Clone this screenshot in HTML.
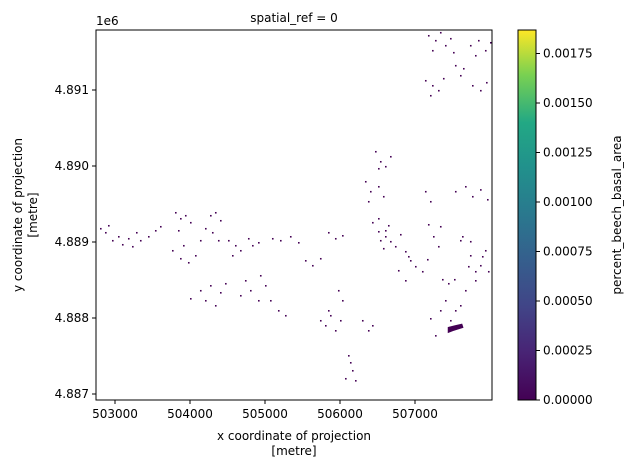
<!DOCTYPE html>
<html><head><meta charset="utf-8"><style>
body{margin:0;background:#fff;font-family:"Liberation Sans","DejaVu Sans",sans-serif}
svg text{font-family:"DejaVu Sans","Liberation Sans",sans-serif;font-size:12px;fill:#000}
</style></head><body>
<svg id="chart" width="632" height="469" xmlns="http://www.w3.org/2000/svg">
<defs><linearGradient id="vir" x1="0" y1="1" x2="0" y2="0">
<stop offset="0" stop-color="#440154"/><stop offset="0.13" stop-color="#482475"/><stop offset="0.25" stop-color="#414487"/><stop offset="0.38" stop-color="#355f8d"/><stop offset="0.5" stop-color="#2a788e"/><stop offset="0.63" stop-color="#21918c"/><stop offset="0.75" stop-color="#22a884"/><stop offset="0.88" stop-color="#7ad151"/><stop offset="1" stop-color="#fde725"/></linearGradient>
<clipPath id="clip"><rect x="96" y="30" width="396" height="370"/></clipPath></defs>
<g id="marks" clip-path="url(#clip)"></g>
<rect x="96" y="30" width="396" height="370" fill="none" stroke="#000" stroke-width="1"/>
<text x="294" y="22" text-anchor="middle">spatial_ref = 0</text>
<text x="96" y="25">1e6</text>
<g id="xt"></g>
<g id="yt"></g>
<text x="294" y="440" text-anchor="middle">x coordinate of projection</text>
<text x="294" y="455" text-anchor="middle">[metre]</text>
<text transform="translate(22,215) rotate(-90)" text-anchor="middle">y coordinate of projection</text>
<text transform="translate(37,215) rotate(-90)" text-anchor="middle">[metre]</text>
<rect x="518" y="30" width="18" height="370" fill="url(#vir)" stroke="#000" stroke-width="1"/>
<g id="ct"></g>
<text transform="translate(621,215) rotate(-90)" text-anchor="middle">percent_beech_basal_area</text>
</svg>
<script>
const xTicks=[503000,504000,505000,506000,507000];
const yTicks=[4887000,4888000,4889000,4890000,4891000];
const yTickLabels=["4.887","4.888","4.889","4.890","4.891"];
const cTicks=[0,0.00025,0.0005,0.00075,0.001,0.00125,0.0015,0.00175];
const cTickLabels=["0.00000","0.00025","0.00050","0.00075","0.00100","0.00125","0.00150","0.00175"];
const eastings=[
502800,502867,502907,502960,503040,503093,503173,503227,503280,503333,503440,503533,503600,
503800,503867,503933,504000,503840,503907,503760,503867,503973,504067,504133,504200,504267,504333,504400,504293,504373,
504507,504600,504667,504773,504827,504907,504560,
504000,504133,504267,504400,504200,504333,504467,
504667,504800,504907,505000,505067,505173,505267,504733,504933,
505093,505200,505333,505440,
505840,505933,506027,
505533,505627,505733,
505733,505800,505867,505933,505840,506000,
505973,506027,
506107,506160,506067,506200,506133,
506293,506373,506427,
506427,506507,506600,506533,506640,
506773,506867,506933,
507173,507267,507333,507400,507467,507227,507507,
507733,507840,507933,508000,507800,
506467,506533,506600,506667,506507,
507133,507227,507307,507373,507200,
507533,507600,507640,
507760,507867,507947,
506333,506400,506507,506573,506373,
507133,507200,
507533,507667,507760,507867,507960,
506507,506600,506667,506733,506800,506867,506573,
507173,507240,507307,507333,
507627,507733,
506907,507000,507093,507160,
507707,507800,507893,507973,508027,
507360,507440,507520,
507600,507733,507867,507933,507800,507667,507200,507333,507467,507600,507267,507400,507533];
const northings=[
4889185,4889132,4889224,4889027,4889079,4888974,4889053,4888948,4889132,4889027,4889079,4889158,4889211,
4889395,4889316,4889356,4889264,4889158,4888961,4888895,4888790,4888737,4888829,4889027,4889185,4889356,4889395,4889290,4889132,4889027,
4889027,4888961,4888895,4889053,4888961,4889000,4888829,
4888263,4888369,4888434,4888342,4888237,4888171,4888461,
4888303,4888369,4888237,4888434,4888237,4888105,4888040,4888500,4888566,
4889053,4889027,4889079,4889000,
4889132,4889053,4889092,
4888763,4888698,4888790,
4887974,4887908,4888040,4887842,4888105,4887974,
4888369,4888237,
4887513,4887316,4887211,4887184,4887421,
4887974,4887842,4887908,
4889264,4889316,4889158,4889027,4889224,
4888632,4888500,4888763,
4891724,4891659,4891764,4891593,4891685,4891527,4891501,
4891593,4891659,4891527,4891632,4891461,
4890198,4890066,4890001,4890132,4889974,
4891132,4891066,4891001,4891159,4890935,
4891330,4891198,4891290,
4891066,4891001,4891106,
4889803,4889672,4889737,4889606,4889540,
4889672,4889540,
4889672,4889737,4889606,4889696,4889566,
4889145,4889079,4889014,4888948,4889106,4888882,4888922,
4889237,4889079,4888948,4889211,
4889079,4889014,
4888816,4888685,4888619,4888777,
4888685,4888619,4888816,4888619,4888711,
4888514,4888461,4888514,
4889027,4888829,4888698,4888895,4888500,4888369,4888000,4888105,4887974,4888171,4887776,4888237,4888105];
const heat=[[507450,4887870],[507530,4887890],[507620,4887910],[507630,4887880],[507500,4887840],[507450,4887820]];
const X=v=>115+(v-503000)/1000*75;
const Y=v=>394-(v-4887000)/1000*76;
const C=v=>400-v/0.00025*49.5;
const ns="http://www.w3.org/2000/svg";
function mk(t,a,p){const e=document.createElementNS(ns,t);for(const k in a)e.setAttribute(k,a[k]);p.appendChild(e);return e;}
const marks=document.getElementById('marks');
for(let i=0;i<eastings.length;i++){
 const r=mk('rect',{x:X(eastings[i]),y:Y(northings[i]),width:1.6,height:1.6,fill:'#440154'},marks);
 
 
}
const pts=heat.map(p=>X(p[0])+','+Y(p[1])).join(' ');
const blob=mk('polygon',{points:pts,fill:'#440154',stroke:'#440154','stroke-width':2},marks);


const xt=document.getElementById('xt');
xTicks.forEach(v=>{const x=X(v);
 mk('line',{x1:x,x2:x,y1:400,y2:404,stroke:'#000'},xt);
 const t=mk('text',{x:x,y:418,'text-anchor':'middle'},xt);t.textContent=v;
 
 });
const yt=document.getElementById('yt');
yTicks.forEach((v,i)=>{const y=Y(v);
 mk('line',{x1:92,x2:96,y1:y,y2:y,stroke:'#000'},yt);
 const t=mk('text',{x:89,y:y+4,'text-anchor':'end'},yt);t.textContent=yTickLabels[i];
 
 });
const ct=document.getElementById('ct');
cTicks.forEach((v,i)=>{const y=C(v);
 mk('line',{x1:536,x2:540,y1:y,y2:y,stroke:'#000'},ct);
 const t=mk('text',{x:543,y:y+4},ct);t.textContent=cTickLabels[i];
 
 });
</script>
</body></html>
